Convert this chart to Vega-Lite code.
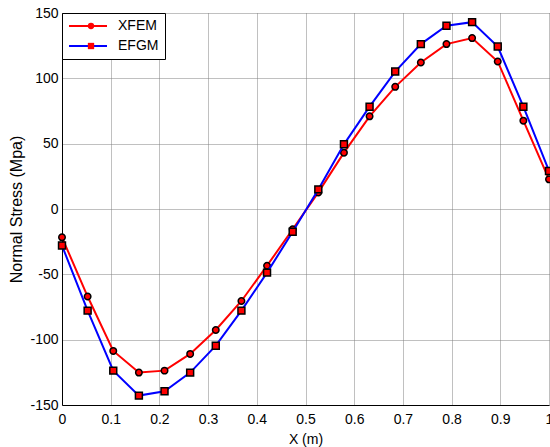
{
  "$schema": "https://vega.github.io/schema/vega-lite/v6.json",
  "width": 487,
  "height": 392,
  "autosize": {"type": "none"},
  "padding": {"left": 62, "top": 13, "right": 1, "bottom": 42},
  "background": "white",
  "config": {
    "font": "Liberation Sans",
    "view": {"stroke": null},
    "axis": {
      "domainColor": "black",
      "domainWidth": 1,
      "labelColor": "black",
      "labelFont": "Liberation Sans",
      "labelFontSize": 14,
      "titleColor": "black",
      "titleFont": "Liberation Sans",
      "titleFontWeight": "normal",
      "grid": true,
      "gridColor": "#808080",
      "gridDash": [1, 1],
      "gridWidth": 1,
      "ticks": false,
      "labelFlush": false,
      "labelOverlap": false
    }
  },
  "data": {
    "values": [
      {"x": 0.0, "method": "XFEM", "stress": -21.7},
      {"x": 0.05263, "method": "XFEM", "stress": -67.0},
      {"x": 0.10526, "method": "XFEM", "stress": -108.6},
      {"x": 0.15789, "method": "XFEM", "stress": -125.2},
      {"x": 0.21053, "method": "XFEM", "stress": -123.7},
      {"x": 0.26316, "method": "XFEM", "stress": -110.9},
      {"x": 0.31579, "method": "XFEM", "stress": -92.6},
      {"x": 0.36842, "method": "XFEM", "stress": -70.4},
      {"x": 0.42105, "method": "XFEM", "stress": -43.4},
      {"x": 0.47368, "method": "XFEM", "stress": -15.5},
      {"x": 0.52632, "method": "XFEM", "stress": 12.7},
      {"x": 0.57895, "method": "XFEM", "stress": 43.1},
      {"x": 0.63158, "method": "XFEM", "stress": 70.9},
      {"x": 0.68421, "method": "XFEM", "stress": 93.5},
      {"x": 0.73684, "method": "XFEM", "stress": 112.1},
      {"x": 0.78947, "method": "XFEM", "stress": 126.2},
      {"x": 0.84211, "method": "XFEM", "stress": 130.8},
      {"x": 0.89474, "method": "XFEM", "stress": 112.9},
      {"x": 0.94737, "method": "XFEM", "stress": 67.6},
      {"x": 1.0, "method": "XFEM", "stress": 22.7},
      {"x": 0.0, "method": "EFGM", "stress": -28.0},
      {"x": 0.05263, "method": "EFGM", "stress": -77.8},
      {"x": 0.10526, "method": "EFGM", "stress": -123.7},
      {"x": 0.15789, "method": "EFGM", "stress": -142.8},
      {"x": 0.21053, "method": "EFGM", "stress": -139.5},
      {"x": 0.26316, "method": "EFGM", "stress": -125.2},
      {"x": 0.31579, "method": "EFGM", "stress": -104.6},
      {"x": 0.36842, "method": "EFGM", "stress": -77.8},
      {"x": 0.42105, "method": "EFGM", "stress": -48.7},
      {"x": 0.47368, "method": "EFGM", "stress": -17.4},
      {"x": 0.52632, "method": "EFGM", "stress": 15.0},
      {"x": 0.57895, "method": "EFGM", "stress": 49.5},
      {"x": 0.63158, "method": "EFGM", "stress": 78.3},
      {"x": 0.68421, "method": "EFGM", "stress": 105.2},
      {"x": 0.73684, "method": "EFGM", "stress": 126.2},
      {"x": 0.78947, "method": "EFGM", "stress": 140.2},
      {"x": 0.84211, "method": "EFGM", "stress": 143.0},
      {"x": 0.89474, "method": "EFGM", "stress": 124.3},
      {"x": 0.94737, "method": "EFGM", "stress": 78.3},
      {"x": 1.0, "method": "EFGM", "stress": 29.1}
    ]
  },
  "encoding": {
    "x": {
      "field": "x",
      "type": "quantitative",
      "scale": {"domain": [0, 1], "nice": false, "zero": false},
      "axis": {
        "title": "X (m)",
        "titleFontSize": 14,
        "values": [0, 0.1, 0.2, 0.3, 0.4, 0.5, 0.6, 0.7, 0.8, 0.9, 1],
        "format": ".1~f",
        "labelPadding": 7,
        "titlePadding": 6
      }
    },
    "y": {
      "field": "stress",
      "type": "quantitative",
      "scale": {"domain": [-150, 150], "nice": false},
      "axis": {
        "title": "Normal Stress (Mpa)",
        "titleFontSize": 16,
        "values": [-150, -100, -50, 0, 50, 100, 150],
        "labelExpr": "toString(datum.value)",
        "labelPadding": 4,
        "titlePadding": 5
      }
    }
  },
  "layer": [
    {
      "transform": [{"filter": "datum.method === 'XFEM'"}],
      "mark": {"type": "line", "strokeWidth": 2},
      "encoding": {
        "stroke": {
          "field": "method",
          "type": "nominal",
          "scale": {"domain": ["XFEM", "EFGM"], "range": ["#ff0000", "#0000ff"]},
          "legend": {
            "title": null,
            "orient": "top-left",
            "offset": 0,
            "symbolType": "stroke",
            "symbolSize": 1444,
            "symbolStrokeWidth": 2,
            "clipHeight": 14,
            "labelFont": "Liberation Sans",
            "labelFontSize": 14,
            "labelColor": "black",
            "labelOffset": 10,
            "padding": 6,
            "rowPadding": 6,
            "strokeColor": "black",
            "fillColor": "white",
            "cornerRadius": 0
          }
        }
      }
    },
    {
      "transform": [{"filter": "datum.method === 'XFEM'"}],
      "mark": {"type": "point", "filled": true, "fill": "#ff0000", "stroke": "black", "strokeWidth": 1.5, "opacity": 1, "size": 42},
      "encoding": {
        "shape": {
          "field": "method",
          "type": "nominal",
          "scale": {"domain": ["XFEM", "EFGM"], "range": ["circle", "square"]},
          "legend": {
            "title": null,
            "orient": "none",
            "legendX": 0,
            "legendY": 0,
            "symbolSize": 40,
            "symbolFillColor": "#ff0000",
            "symbolStrokeColor": "black",
            "symbolStrokeWidth": 1.5,
            "symbolOffset": 16,
            "clipHeight": 14,
            "labelFont": "Liberation Sans",
            "labelFontSize": 14,
            "labelExpr": "''",
            "labelOffset": 10,
            "padding": 6,
            "rowPadding": 6
          }
        }
      }
    },
    {
      "transform": [{"filter": "datum.method === 'EFGM'"}],
      "mark": {"type": "line", "strokeWidth": 2},
      "encoding": {
        "stroke": {"field": "method", "type": "nominal"}
      }
    },
    {
      "transform": [{"filter": "datum.method === 'EFGM'"}],
      "mark": {"type": "point", "filled": true, "fill": "#ff0000", "stroke": "black", "strokeWidth": 1.5, "opacity": 1, "size": 48},
      "encoding": {
        "shape": {"field": "method", "type": "nominal"}
      }
    }
  ]
}
